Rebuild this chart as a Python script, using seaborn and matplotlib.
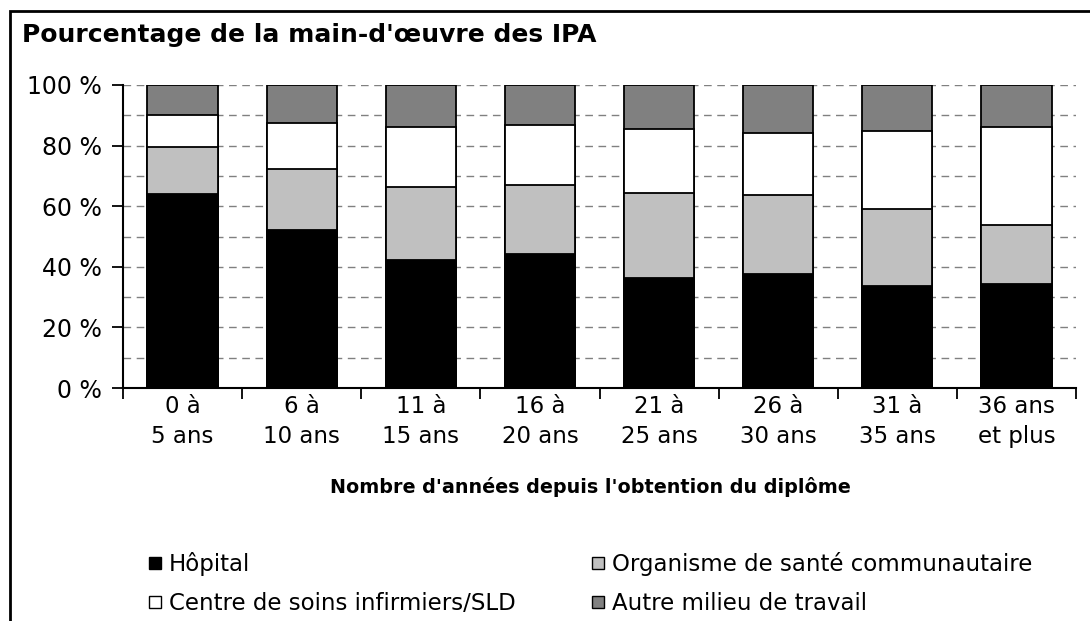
import matplotlib
matplotlib.use("Agg")
import matplotlib.pyplot as plt
from matplotlib.patches import Rectangle
from matplotlib.lines import Line2D
import seaborn as sns
import pandas as pd
import numpy as np

categories = ["0 à\n5 ans", "6 à\n10 ans", "11 à\n15 ans", "16 à\n20 ans",
              "21 à\n25 ans", "26 à\n30 ans", "31 à\n35 ans", "36 ans\net plus"]
hopital = [64.0, 52.0, 42.2, 44.2, 36.3, 37.6, 33.7, 34.3]
organisme = [15.5, 20.3, 24.2, 22.8, 28.0, 26.0, 25.4, 19.5]
centre = [10.6, 15.1, 19.6, 19.7, 21.2, 20.7, 25.6, 32.2]
autre = [9.9, 12.6, 14.0, 13.3, 14.5, 15.7, 15.3, 14.0]
series_names = ["Hôpital", "Organisme de santé communautaire",
                "Centre de soins infirmiers/SLD", "Autre milieu de travail"]
series_colors = ["#000000", "#C0C0C0", "#FFFFFF", "#808080"]
yticks = [0, 20, 40, 60, 80, 100]
ytick_labels = ["0 %", "20 %", "40 %", "60 %", "80 %", "100 %"]
title = "Pourcentage de la main-d'œuvre des IPA"
xlabel = "Nombre d'années depuis l'obtention du diplôme"

sns.set_theme(style="white")
plt.rcParams['font.family'] = ['DejaVu Sans']
plt.rcParams['text.color'] = 'black'
plt.rcParams['xtick.color'] = 'black'
plt.rcParams['ytick.color'] = 'black'
plt.rcParams['xtick.labelcolor'] = 'black'
plt.rcParams['ytick.labelcolor'] = 'black'

W, H = 1090, 621
fig = plt.figure(figsize=(W / 100, H / 100), dpi=100)
ax = fig.add_axes([123 / W, 1 - 388 / H, (1076 - 123) / W, (388 - 85) / H])

df = pd.DataFrame({"cat": categories, "h": hopital, "o": organisme,
                   "c": centre, "a": autre})
cum = np.cumsum(df[["h", "o", "c", "a"]].values, axis=1)
for k in [3, 2, 1, 0]:
    d = pd.DataFrame({"cat": categories, "val": cum[:, k]})
    sns.barplot(data=d, x="cat", y="val", order=categories, color=series_colors[k],
                saturation=1, edgecolor="black", linewidth=1.3, width=0.59,
                errorbar=None, ax=ax, zorder=3)

ax.set_xlim(-0.5, len(categories) - 0.5)
ax.set_ylim(0, 100)
ax.set_yticks(yticks)
ax.set_yticklabels(ytick_labels, fontsize=17)
ax.set_yticks(range(0, 101, 10), minor=True)
ax.yaxis.grid(True, which="both", linestyle=(0, (5.5, 4)), color="#808080", linewidth=1.0, zorder=0)
ax.xaxis.grid(False)
ax.set_axisbelow(True)
ax.tick_params(axis="y", which="major", length=8, width=1.3, color="black", pad=7, direction="out", left=True)
ax.tick_params(axis="y", which="minor", length=0)
ax.set_xticks(range(len(categories)))
ax.set_xticklabels(categories, fontsize=16.5, linespacing=1.37)
ax.set_xticks(np.arange(-0.5, len(categories), 1.0), minor=True)
ax.tick_params(axis="x", which="major", length=0, pad=5)
ax.tick_params(axis="x", which="minor", length=8, width=1.3, color="black", direction="out", bottom=True)
ax.set_xlabel("")
ax.set_ylabel("")
for s in ["top", "right"]:
    ax.spines[s].set_visible(False)
for s in ["left", "bottom"]:
    ax.spines[s].set_color("black")
    ax.spines[s].set_linewidth(1.5)
    ax.spines[s].set_zorder(5)

fig.text(22 / W, 1 - 42 / H, title, fontsize=18, fontweight="bold", va="baseline", ha="left")
fig.text(590 / W, 1 - 487 / H, xlabel, fontsize=13.8, fontweight="bold", va="center", ha="center")

def handle(c):
    return Line2D([], [], marker="s", linestyle="none", markersize=9,
                  markerfacecolor=c, markeredgecolor="black", markeredgewidth=1.0)

common = dict(loc="upper left", frameon=False, fontsize=16.5, handlelength=0.75,
              handletextpad=0.25, borderpad=0, borderaxespad=0, labelspacing=0.72)
leg1 = fig.legend([handle(series_colors[0]), handle(series_colors[2])],
                  [series_names[0], series_names[2]],
                  bbox_to_anchor=(146 / W, 1 - 552 / H), **common)
leg2 = fig.legend([handle(series_colors[1]), handle(series_colors[3])],
                  [series_names[1], series_names[3]],
                  bbox_to_anchor=(589 / W, 1 - 552 / H), **common)

fig.patches.append(Rectangle((10 / W, -0.5), 2.0, (1 - 11 / H) + 0.5, fill=False,
                             edgecolor="black", linewidth=2, transform=fig.transFigure,
                             figure=fig))

fig.savefig("out.png", dpi=100, facecolor="white")
